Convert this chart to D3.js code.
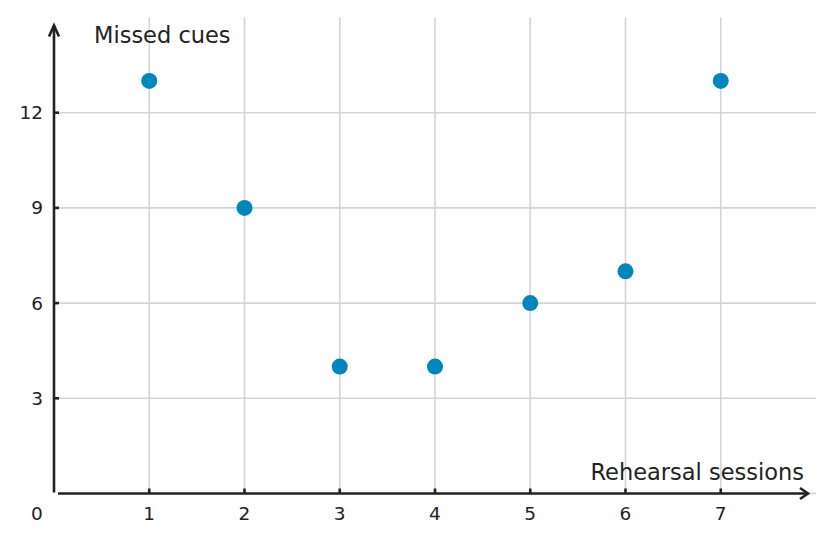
<!DOCTYPE html>
<html><head><meta charset="utf-8">
<script src="https://cdn.jsdelivr.net/npm/d3@7"></script>
<style>html,body{margin:0;padding:0;background:#fff;}svg{display:block;font-family:"DejaVu Sans",sans-serif;}</style>
</head><body>
<svg id="c" width="833" height="542"></svg>
<script>
const sessions = [1, 2, 3, 4, 5, 6, 7];
const missedCues = [13, 9, 4, 4, 6, 7, 13];
const xTicks = [1, 2, 3, 4, 5, 6, 7];
const yTicks = [3, 6, 9, 12];
const xTitle = "Rehearsal sessions";
const yTitle = "Missed cues";

const svg = d3.select("#c");
const x = d3.scaleLinear().domain([0, 8]).range([54, 816]);
const y = d3.scaleLinear().domain([0, 15]).range([493.5, 17.5]);

const grid = svg.append("g").attr("stroke", "#d4d4d4").attr("stroke-width", 1.6);
grid.selectAll("line.v").data(xTicks).join("line")
  .attr("x1", d => x(d)).attr("x2", d => x(d))
  .attr("y1", y(0)).attr("y2", y(15));
grid.selectAll("line.h").data(yTicks).join("line")
  .attr("x1", x(0)).attr("x2", x(8))
  .attr("y1", d => y(d)).attr("y2", d => y(d));
grid.append("line").attr("x1", x(7.8)).attr("x2", x(8)).attr("y1", y(0)).attr("y2", y(0));

const ax = svg.append("g").attr("stroke", "#222").attr("stroke-width", 2.6).attr("fill", "none");
ax.append("path").attr("d", `M${x(0)},${y(0)-1} L${x(0)},${y(14.75)}`);
ax.append("path").attr("d", `M${x(0)-5},${y(14.4)} L${x(0)},${y(14.75)} L${x(0)+5},${y(14.4)}`);
ax.append("path").attr("d", `M${x(0)+4},${y(0)} L808,${y(0)}`);
ax.append("path").attr("d", `M800,${y(0)-5.5} L808,${y(0)} L800,${y(0)+5.5}`);

svg.append("g").selectAll("line").data(xTicks).join("line")
  .attr("x1", d => x(d)).attr("x2", d => x(d))
  .attr("y1", y(0)).attr("y2", y(0) - 5)
  .attr("stroke", "#222").attr("stroke-width", 2.6);
svg.append("g").selectAll("line").data(yTicks).join("line")
  .attr("x1", x(0)).attr("x2", x(0) + 5)
  .attr("y1", d => y(d)).attr("y2", d => y(d))
  .attr("stroke", "#222").attr("stroke-width", 2.6);

svg.append("g").selectAll("text").data(xTicks).join("text")
  .attr("x", d => x(d)).attr("y", 520).attr("text-anchor", "middle")
  .attr("font-size", 18.5).attr("fill", "#222").text(d => d);
svg.append("g").selectAll("text").data(yTicks).join("text")
  .attr("x", 43).attr("y", d => y(d) + 6.5).attr("text-anchor", "end")
  .attr("font-size", 18.5).attr("fill", "#222").text(d => d);
svg.append("text").attr("x", 37).attr("y", 520).attr("text-anchor", "middle")
  .attr("font-size", 18.5).attr("fill", "#222").text("0");

svg.append("text").attr("x", 94).attr("y", 43).attr("font-size", 22.5).attr("fill", "#222").text(yTitle);
svg.append("text").attr("x", 804).attr("y", 480).attr("text-anchor", "end").attr("font-size", 22.5).attr("fill", "#222").text(xTitle);

svg.append("g").selectAll("circle").data(sessions).join("circle")
  .attr("cx", d => x(d)).attr("cy", (d, i) => y(missedCues[i]))
  .attr("r", 8).attr("fill", "#0086bc");
</script>
</body></html>
